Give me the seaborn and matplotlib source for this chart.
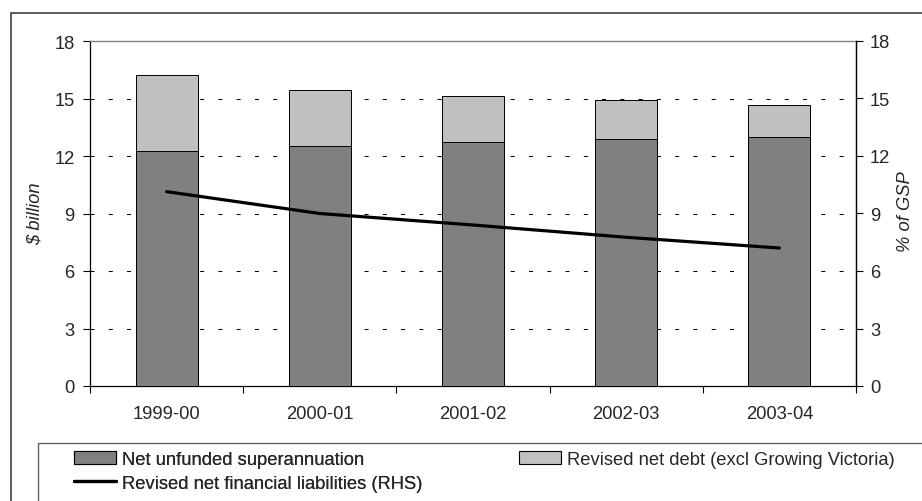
import numpy as np
import matplotlib
matplotlib.use("Agg")
import matplotlib.pyplot as plt
from matplotlib.patches import Rectangle, Patch
from matplotlib.lines import Line2D
import seaborn as sns

# Financial years
categories = ["1999-00", "2000-01", "2001-02", "2002-03", "2003-04"]
# $ billion
net_unfunded_super = [12.27, 12.54, 12.71, 12.89, 13.00]
revised_net_debt = [3.97, 2.90, 2.43, 2.05, 1.68]
# % of GSP (right-hand scale)
net_fin_liabilities = [10.14, 9.00, 8.40, 7.76, 7.20]
y_ticks = [0, 3, 6, 9, 12, 15, 18]

sns.set_theme(style="white")
plt.rcParams["font.family"] = ["Liberation Sans", "DejaVu Sans"]
FS = 13.2

W, H = 922, 502
fig = plt.figure(figsize=(W / 100, H / 100), dpi=100)
ax = fig.add_axes([90 / W, 1 - 387 / H, (856 - 90) / W, (387 - 42) / H])

stack_top = [s + d for s, d in zip(net_unfunded_super, revised_net_debt)]
bar_w = 0.405
sns.barplot(x=categories, y=stack_top, color="#C0C0C0", edgecolor="black",
            linewidth=0.7, width=bar_w, saturation=1, ax=ax, zorder=3)
sns.barplot(x=categories, y=net_unfunded_super, color="#808080", edgecolor="black",
            linewidth=0.7, width=bar_w, saturation=1, ax=ax, zorder=3)

ax.set_xlim(-0.5, len(categories) - 0.5)
ax.set_ylim(0, 18)
ax.set_yticks(y_ticks)
ax.set_yticklabels([str(t) for t in y_ticks], fontsize=FS)
ax.set_ylabel("")
ax.set_xlabel("")

# category labels centred, tick marks on the boundaries
idx = np.arange(len(categories))
ax.set_xticks(np.arange(len(categories) + 1) - 0.5)
ax.set_xticklabels([])
ax.set_xticks(idx, minor=True)
ax.set_xticklabels(categories, minor=True, fontsize=FS)
ax.tick_params(axis="x", which="major", direction="out", length=5, width=0.8,
               color="black", bottom=True)
ax.tick_params(axis="x", which="minor", length=0, pad=14)
ax.tick_params(axis="y", direction="out", length=5, width=0.8, color="black",
               left=True, pad=6)

for y in y_ticks[1:-1]:
    ax.axhline(y, color="black", lw=0.75, linestyle=(0, (3.84, 13.7)), zorder=1)

for side in ["left", "bottom", "right"]:
    ax.spines[side].set_color("black")
    ax.spines[side].set_linewidth(0.9)
ax.spines["top"].set_color("#808080")
ax.spines["top"].set_linewidth(1.0)

ax2 = ax.twinx()
sns.lineplot(x=idx, y=net_fin_liabilities, color="black", lw=2.3, ax=ax2,
             zorder=5)
ax2.set_ylim(0, 18)
ax2.set_yticks(y_ticks)
ax2.set_yticklabels([str(t) for t in y_ticks], fontsize=FS)
ax2.tick_params(axis="y", direction="out", length=5, width=0.8, color="black",
                right=True, pad=5)
ax2.set_ylabel("")
for s in ax2.spines.values():
    s.set_visible(False)
ax2.spines["right"].set_visible(True)
ax2.spines["right"].set_color("black")
ax2.spines["right"].set_linewidth(0.9)

fig.text(35 / W, 1 - 214 / H, "$ billion", rotation=90, style="italic",
         fontsize=FS, ha="center", va="center")
fig.text(905 / W, 1 - 212 / H, "% of GSP", rotation=90, style="italic",
         fontsize=FS, ha="center", va="center")

# outer frame and legend box
fig.patches.append(Rectangle((10.5 / W, -0.02), 1.0, (H - 13.5) / H + 0.02,
                             transform=fig.transFigure, fill=False,
                             edgecolor="#404040", lw=1.2))
fig.patches.append(Rectangle((37.5 / W, -0.02), 1.0, (H - 443.5) / H + 0.02,
                             transform=fig.transFigure, fill=False,
                             edgecolor="#606060", lw=1.0))

h_super = Patch(facecolor="#808080", edgecolor="black", lw=0.8)
h_debt = Patch(facecolor="#C0C0C0", edgecolor="black", lw=0.8)
h_line = Line2D([], [], color="black", lw=2.3)
leg1 = fig.legend([h_super, h_line],
                  ["Net unfunded superannuation",
                   "Revised net financial liabilities (RHS)"],
                  loc="upper left", bbox_to_anchor=(74 / W, 1 - 452 / H),
                  frameon=False, fontsize=FS, borderpad=0, borderaxespad=0,
                  handlelength=2.3, handleheight=0.75, handletextpad=0.3,
                  labelspacing=0.35)
leg2 = fig.legend([h_debt], ["Revised net debt (excl Growing Victoria)"],
                  loc="upper left", bbox_to_anchor=(519 / W, 1 - 452 / H),
                  frameon=False, fontsize=FS, borderpad=0, borderaxespad=0,
                  handlelength=2.3, handleheight=0.75, handletextpad=0.3)
fig.add_artist(leg1)

fig.savefig("out.png", dpi=100)
